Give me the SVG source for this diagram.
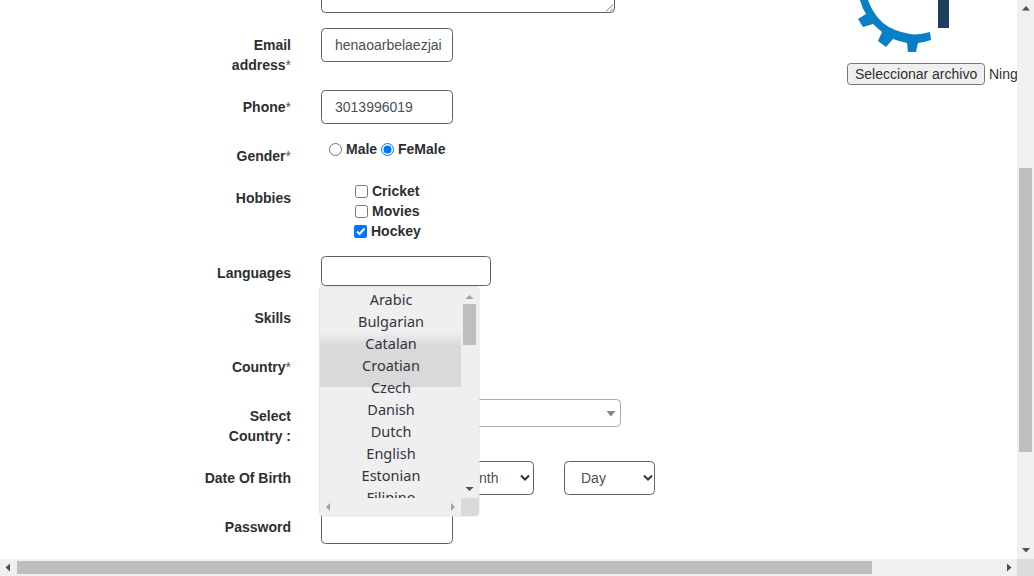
<svg xmlns="http://www.w3.org/2000/svg" width="1034" height="576" viewBox="0 0 1034 576">
<defs>
<style>
text{font-family:"Liberation Sans",Arial,sans-serif;font-size:14px;fill:#2b2f33}
.l{font-weight:700;text-anchor:end}
.s{font-weight:400;fill:#555}
.o{font-weight:700}
.v{fill:#495057}
.i{fill:#fff;stroke:#5f6368;stroke-width:1}
.it{font-family:"Noto Sans",sans-serif;font-size:14.5px;text-anchor:middle;fill:#2f3640}
.a{fill:#505050}
.b{fill:#a3a3a3}
.c{fill:#fff;stroke:#767676}
.ch{fill:none;stroke:#333;stroke-width:2}
</style>
<linearGradient id="hl" x1="0" y1="0" x2="0" y2="1"><stop offset="0" stop-color="#eee"/><stop offset="1" stop-color="#d9d9d9"/></linearGradient>
<clipPath id="lc"><rect x="320" y="287" width="141" height="211"/></clipPath>
<clipPath id="pc"><rect x="0" y="0" width="1017" height="559"/></clipPath>
</defs>
<rect width="1034" height="576" fill="#fff"/>
<g id="textarea"><rect class="i" x="321.500" y="-20" width="293" height="32.500" rx="4"/><path d="M606 11.500L613 4.500M610 11.500L613 8.500" stroke="#777" stroke-width="1" fill="none"/></g>
<g id="email"><text class="l" x="291" y="50">Email</text><text class="l" x="291" y="70">address<tspan class="s">*</tspan></text><rect class="i" x="321.500" y="28.500" width="131" height="33" rx="4"/><text class="v" x="335" y="50">henaoarbelaezjai</text></g>
<g id="phone"><text class="l" x="291" y="112">Phone<tspan class="s">*</tspan></text><rect class="i" x="321.500" y="90.500" width="131" height="33" rx="4"/><text class="v" x="335" y="112">3013996019</text></g>
<g id="gender"><text class="l" x="291" y="161">Gender<tspan class="s">*</tspan></text>
<circle cx="335.500" cy="149.500" r="6" class="c"/><text class="o" x="346" y="154">Male</text>
<circle cx="387.500" cy="149.500" r="6" fill="#fff" stroke="#0075ff"/><circle cx="387.500" cy="149.500" r="4" fill="#0075ff"/><text class="o" x="398" y="154">FeMale</text></g>
<g id="hobbies"><text class="l" x="291" y="203">Hobbies</text>
<rect class="c" x="355.500" y="185.500" width="12" height="12" rx="2"/><text class="o" x="372" y="196">Cricket</text>
<rect class="c" x="355.500" y="205.500" width="12" height="12" rx="2"/><text class="o" x="372" y="216">Movies</text>
<rect x="354" y="225" width="13" height="13" rx="2" fill="#0075ff"/><path d="M357 231.500L359.500 234L364.500 228.500" fill="none" stroke="#fff" stroke-width="2"/><text class="o" x="371" y="236">Hockey</text></g>
<g id="languages"><text class="l" x="291" y="278">Languages</text><rect class="i" x="321.500" y="256.500" width="169" height="29" rx="4"/></g>
<g id="skills"><text class="l" x="291" y="323">Skills</text></g>
<g id="country"><text class="l" x="291" y="372">Country<tspan class="s">*</tspan></text></g>
<g id="select-country"><text class="l" x="291" y="421">Select</text><text class="l" x="291" y="441">Country :</text><rect x="400" y="399.500" width="220.500" height="27" rx="4" fill="#fff" stroke="#aaa"/><path d="M606.500 411h9l-4.500 5.500z" fill="#888"/></g>
<g id="dob"><text class="l" x="291" y="483">Date Of Birth</text>
<rect class="i" x="420" y="461.500" width="113.500" height="33" rx="4"/><text class="v" x="479" y="483">nth</text><path class="ch" d="M521 475.500L525 479.500L529 475.500"/>
<rect class="i" x="564.500" y="461.500" width="90" height="33" rx="4"/><text class="v" x="581" y="483">Day</text><path class="ch" d="M644 475.500L648 479.500L652 475.500"/></g>
<g id="password"><text class="l" x="291" y="532">Password</text><rect class="i" x="321.500" y="505" width="131" height="38.500" rx="4"/></g>
<g id="dropdown">
<rect x="319.500" y="286.500" width="159.500" height="229.500" rx="4" fill="#efefef" stroke="#e4e4e4"/>
<rect x="320" y="333" width="141" height="12" fill="url(#hl)"/><rect x="320" y="345" width="141" height="42" fill="#d9d9d9"/>
<g clip-path="url(#lc)">
<text class="it" x="391" y="305">Arabic</text><text class="it" x="391" y="327">Bulgarian</text><text class="it" x="391" y="349">Catalan</text><text class="it" x="391" y="371">Croatian</text><text class="it" x="391" y="393">Czech</text><text class="it" x="391" y="415">Danish</text><text class="it" x="391" y="437">Dutch</text><text class="it" x="391" y="459">English</text><text class="it" x="391" y="481">Estonian</text><text class="it" x="391" y="503">Filipino</text>
</g>
<rect x="463" y="304" width="13" height="41" fill="#bebebe"/>
<path class="b" d="M465.500 299h8l-4-4z"/><path class="a" d="M465.500 487h8l-4 4z"/>
<path class="b" d="M330 503v8l-4-4z"/><path class="b" d="M451 503v8l4-4z"/>
<path d="M461 498h18v14a4 4 0 0 1-4 4h-14z" fill="#dadada"/>
</g>
<g id="logo" clip-path="url(#pc)">
<path d="M930 32Q918 35.500 910 34Q893 31 883 23Q873 14 868 0L860 0Q862 8 866 14L858 19L863 27L873 24Q877 28 882 32L878 41L886 47L893 39Q900 41.500 907 43L908 52L916 52L918 43Q925 42 931 40Z" fill="#0a7fc6"/>
<rect x="938" y="0" width="11" height="28" fill="#1d4060"/>
<rect x="847.500" y="63.500" width="137" height="21" rx="3" fill="#efefef" stroke="#767676"/>
<text x="855" y="79">Seleccionar archivo</text><text x="989" y="79">Ning</text>
</g>
<g id="scrollbars">
<rect x="1017" y="0" width="17" height="559" fill="#f0f0f0"/><rect x="1019" y="168" width="13" height="284" fill="#bebebe"/>
<path class="a" d="M1022 10.500h8l-4-4.500z"/><path class="a" d="M1022 548h8l-4 4.500z"/>
<rect x="0" y="559" width="1017" height="17" fill="#f0f0f0"/><rect x="17" y="561" width="855" height="13" fill="#bebebe"/>
<path class="a" d="M10 563.500v8l-4.500-4z"/><path class="a" d="M1007 563.500v8l4.500-4z"/>
<rect x="1017" y="559" width="17" height="17" fill="#dcdcdc"/>
</g>
</svg>
